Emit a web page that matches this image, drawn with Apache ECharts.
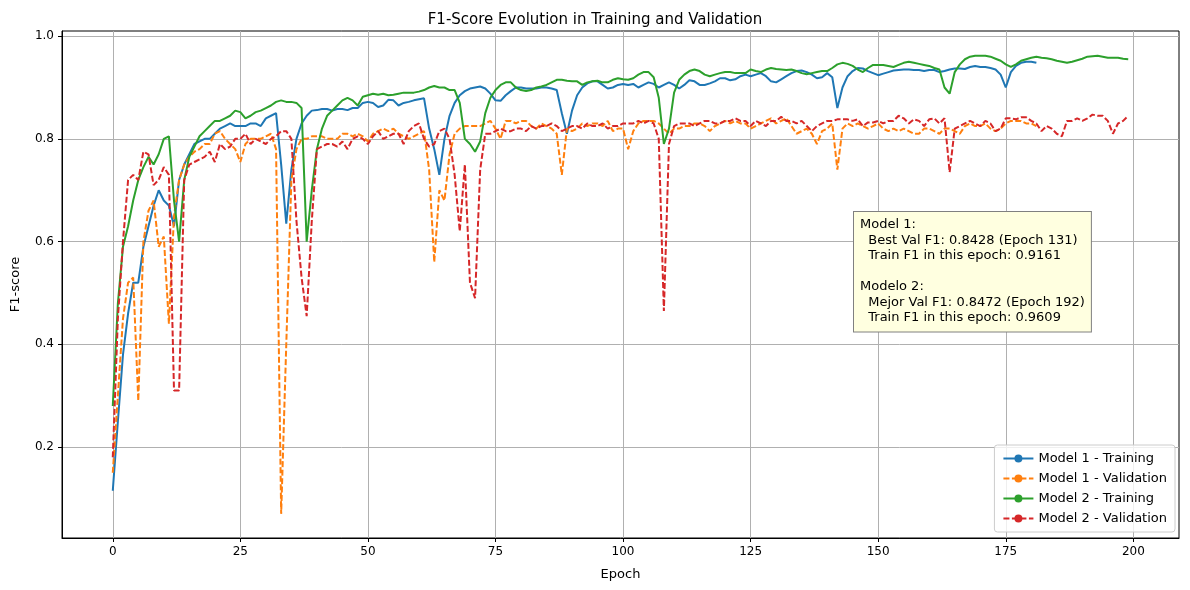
<!DOCTYPE html>
<html><head><meta charset="utf-8">
<script src="https://cdn.jsdelivr.net/npm/echarts@6/dist/echarts.min.js"></script>
<style>html,body{margin:0;padding:0;background:#fff}#c{width:1190px;height:590px}</style>
</head><body><div id="c"></div>
<script>
const m1Train=[0.115,0.25,0.38,0.46,0.52,0.52,0.59,0.63,0.67,0.70,0.68,0.67,0.63,0.72,0.75,0.77,0.79,0.795,0.80,0.80,0.81,0.82,0.825,0.83,0.825,0.825,0.825,0.83,0.83,0.825,0.84,0.845,0.85,0.75,0.635,0.74,0.80,0.83,0.845,0.855,0.856,0.858,0.858,0.855,0.858,0.858,0.856,0.86,0.86,0.87,0.872,0.87,0.862,0.865,0.876,0.875,0.865,0.87,0.872,0.875,0.877,0.879,0.82,0.78,0.73,0.80,0.845,0.87,0.885,0.893,0.898,0.9,0.902,0.898,0.888,0.875,0.874,0.885,0.893,0.9,0.9,0.898,0.898,0.898,0.9,0.9,0.898,0.895,0.85,0.81,0.855,0.885,0.9,0.908,0.912,0.912,0.905,0.898,0.9,0.905,0.907,0.905,0.907,0.9,0.905,0.91,0.907,0.9,0.905,0.91,0.905,0.898,0.905,0.914,0.912,0.905,0.905,0.908,0.912,0.918,0.918,0.914,0.916,0.922,0.925,0.922,0.925,0.928,0.922,0.912,0.91,0.916,0.922,0.928,0.932,0.933,0.93,0.925,0.918,0.92,0.928,0.92,0.86,0.9,0.922,0.932,0.938,0.937,0.932,0.928,0.924,0.927,0.93,0.933,0.934,0.935,0.935,0.934,0.934,0.932,0.934,0.934,0.93,0.932,0.935,0.937,0.937,0.936,0.94,0.942,0.94,0.94,0.938,0.935,0.925,0.9,0.93,0.942,0.948,0.95,0.95,0.948];
const m1Val=[0.15,0.3,0.45,0.52,0.53,0.29,0.6,0.66,0.68,0.59,0.61,0.44,0.65,0.72,0.75,0.765,0.775,0.78,0.79,0.79,0.81,0.815,0.8,0.79,0.78,0.755,0.79,0.8,0.8,0.8,0.805,0.81,0.78,0.07,0.4,0.72,0.78,0.8,0.8,0.805,0.805,0.805,0.8,0.8,0.8,0.81,0.81,0.805,0.81,0.805,0.795,0.81,0.815,0.82,0.815,0.82,0.81,0.805,0.8,0.805,0.81,0.815,0.74,0.56,0.7,0.68,0.77,0.81,0.82,0.825,0.825,0.825,0.825,0.83,0.835,0.82,0.80,0.835,0.835,0.83,0.835,0.835,0.825,0.82,0.83,0.825,0.82,0.81,0.73,0.82,0.815,0.82,0.83,0.825,0.83,0.83,0.825,0.835,0.815,0.82,0.82,0.78,0.815,0.83,0.835,0.835,0.835,0.83,0.82,0.81,0.82,0.82,0.825,0.825,0.83,0.83,0.825,0.815,0.825,0.83,0.835,0.83,0.835,0.83,0.83,0.82,0.825,0.83,0.835,0.84,0.83,0.835,0.84,0.825,0.81,0.815,0.82,0.81,0.79,0.815,0.82,0.83,0.74,0.82,0.83,0.825,0.83,0.825,0.82,0.825,0.83,0.82,0.815,0.82,0.815,0.82,0.815,0.81,0.81,0.82,0.82,0.815,0.81,0.82,0.82,0.815,0.81,0.825,0.83,0.825,0.825,0.83,0.82,0.815,0.82,0.83,0.835,0.835,0.835,0.83,0.83,0.825];
const m2Train=[0.28,0.48,0.59,0.63,0.68,0.72,0.745,0.765,0.75,0.77,0.80,0.805,0.68,0.60,0.72,0.765,0.785,0.805,0.815,0.825,0.835,0.835,0.84,0.845,0.855,0.852,0.84,0.845,0.852,0.855,0.86,0.865,0.872,0.875,0.872,0.872,0.87,0.86,0.60,0.70,0.78,0.82,0.845,0.855,0.865,0.875,0.88,0.875,0.865,0.882,0.885,0.888,0.886,0.888,0.885,0.886,0.888,0.89,0.89,0.89,0.892,0.895,0.9,0.903,0.9,0.9,0.895,0.895,0.87,0.8,0.79,0.775,0.795,0.85,0.88,0.895,0.905,0.91,0.91,0.9,0.895,0.893,0.895,0.9,0.902,0.905,0.91,0.915,0.915,0.913,0.912,0.912,0.905,0.91,0.912,0.913,0.91,0.91,0.915,0.918,0.916,0.915,0.918,0.925,0.93,0.93,0.92,0.88,0.79,0.82,0.89,0.915,0.925,0.932,0.935,0.932,0.925,0.922,0.925,0.928,0.93,0.93,0.928,0.928,0.928,0.935,0.932,0.93,0.935,0.938,0.936,0.935,0.934,0.935,0.932,0.928,0.926,0.928,0.93,0.932,0.932,0.938,0.945,0.948,0.946,0.942,0.935,0.93,0.938,0.944,0.944,0.944,0.942,0.94,0.944,0.948,0.95,0.948,0.946,0.944,0.942,0.938,0.935,0.9,0.888,0.93,0.945,0.955,0.96,0.962,0.962,0.962,0.96,0.956,0.952,0.945,0.94,0.945,0.952,0.955,0.958,0.96,0.958,0.957,0.955,0.952,0.95,0.948,0.95,0.953,0.956,0.96,0.961,0.962,0.96,0.958,0.958,0.958,0.956,0.955];
const m2Val=[0.18,0.45,0.6,0.72,0.73,0.72,0.775,0.77,0.71,0.72,0.745,0.73,0.31,0.31,0.72,0.75,0.755,0.76,0.765,0.775,0.755,0.79,0.78,0.785,0.8,0.80,0.81,0.79,0.80,0.795,0.79,0.80,0.805,0.815,0.815,0.8,0.64,0.53,0.455,0.64,0.78,0.785,0.79,0.79,0.785,0.795,0.78,0.80,0.805,0.8,0.79,0.805,0.815,0.80,0.805,0.81,0.81,0.79,0.815,0.825,0.83,0.80,0.785,0.79,0.815,0.82,0.80,0.73,0.62,0.75,0.52,0.49,0.74,0.81,0.81,0.815,0.82,0.815,0.815,0.82,0.82,0.815,0.825,0.82,0.825,0.825,0.83,0.825,0.815,0.82,0.825,0.825,0.82,0.83,0.825,0.825,0.83,0.82,0.825,0.825,0.83,0.83,0.83,0.835,0.83,0.835,0.83,0.8,0.465,0.79,0.825,0.83,0.83,0.83,0.825,0.83,0.835,0.835,0.83,0.83,0.835,0.835,0.84,0.835,0.835,0.825,0.835,0.83,0.825,0.835,0.835,0.8428,0.835,0.835,0.83,0.835,0.825,0.815,0.825,0.83,0.835,0.835,0.838,0.838,0.838,0.835,0.838,0.825,0.832,0.832,0.835,0.83,0.835,0.835,0.845,0.84,0.83,0.838,0.835,0.825,0.838,0.84,0.83,0.84,0.735,0.82,0.825,0.83,0.835,0.83,0.825,0.835,0.83,0.815,0.82,0.84,0.84,0.838,0.842,0.842,0.835,0.83,0.815,0.825,0.82,0.81,0.805,0.835,0.835,0.84,0.835,0.84,0.8472,0.845,0.845,0.835,0.81,0.83,0.835,0.845];
const xTicks=[0,25,50,75,100,125,150,175,200];
const yTicks=[0.2,0.4,0.6,0.8,1.0];
const seriesNames=['Model 1 - Training','Model 1 - Validation','Model 2 - Training','Model 2 - Validation'];
const annotation='Model 1:\n  Best Val F1: 0.8428 (Epoch 131)\n  Train F1 in this epoch: 0.9161\n\nModelo 2:\n  Mejor Val F1: 0.8472 (Epoch 192)\n  Train F1 in this epoch: 0.9609';

const pairs=a=>a.map((v,i)=>[i,v]);
const font='DejaVu Sans';
const colors=['#1f77b4','#ff7f0e','#2ca02c','#d62728'];
const datas=[m1Train,m1Val,m2Train,m2Val];
const ch=echarts.init(document.getElementById('c'));
ch.setOption({
  animation:false,
  textStyle:{fontFamily:font},
  title:{text:'F1-Score Evolution in Training and Validation',left:'center',top:8,textStyle:{fontFamily:font,fontSize:15,fontWeight:'normal',color:'#000'}},
  grid:{left:62,right:11,top:31,bottom:52,show:true,borderColor:'#000',borderWidth:1,backgroundColor:'transparent'},
  xAxis:{type:'value',min:-9.95,max:208.95,name:'Epoch',nameLocation:'middle',nameGap:30,nameTextStyle:{fontSize:13,color:'#000'},
    axisLine:{onZero:false,lineStyle:{color:'#000'}},axisTick:{customValues:xTicks,length:4,lineStyle:{color:'#000'}},
    axisLabel:{customValues:xTicks,color:'#000',fontSize:12},splitLine:{show:true,lineStyle:{color:'#b0b0b0'}}},
  yAxis:{type:'value',min:0.023,max:1.01,name:'F1-score',nameLocation:'middle',nameGap:40,nameTextStyle:{fontSize:13,color:'#000'},
    axisLine:{show:true,onZero:false,lineStyle:{color:'#000'}},axisTick:{show:true,customValues:yTicks,length:4,lineStyle:{color:'#000'}},
    axisLabel:{customValues:yTicks,color:'#000',fontSize:12,formatter:v=>v.toFixed(1)},splitLine:{show:true,lineStyle:{color:'#b0b0b0'}}},
  legend:{orient:'vertical',right:15,bottom:58,itemWidth:30,itemHeight:10,itemGap:7,padding:[7,8],backgroundColor:'rgba(255,255,255,0.8)',borderColor:'#ccc',borderWidth:1,borderRadius:3,
    textStyle:{fontSize:13,color:'#000'},data:seriesNames},
  series:seriesNames.map((n,i)=>({name:n,type:'line',data:pairs(datas[i]),symbol:'none',showSymbol:false,color:colors[i],
    lineStyle:{width:2,type:i%2?[6,2.5]:'solid'}})),
  graphic:[{type:'text',left:853,top:211,z:100,style:{text:annotation,font:'13px "DejaVu Sans"',lineHeight:15.5,fill:'#000',
    backgroundColor:'#ffffe0',borderColor:'#808080',borderWidth:1,padding:[5,6,6,6]}}]
});
</script></body></html>
